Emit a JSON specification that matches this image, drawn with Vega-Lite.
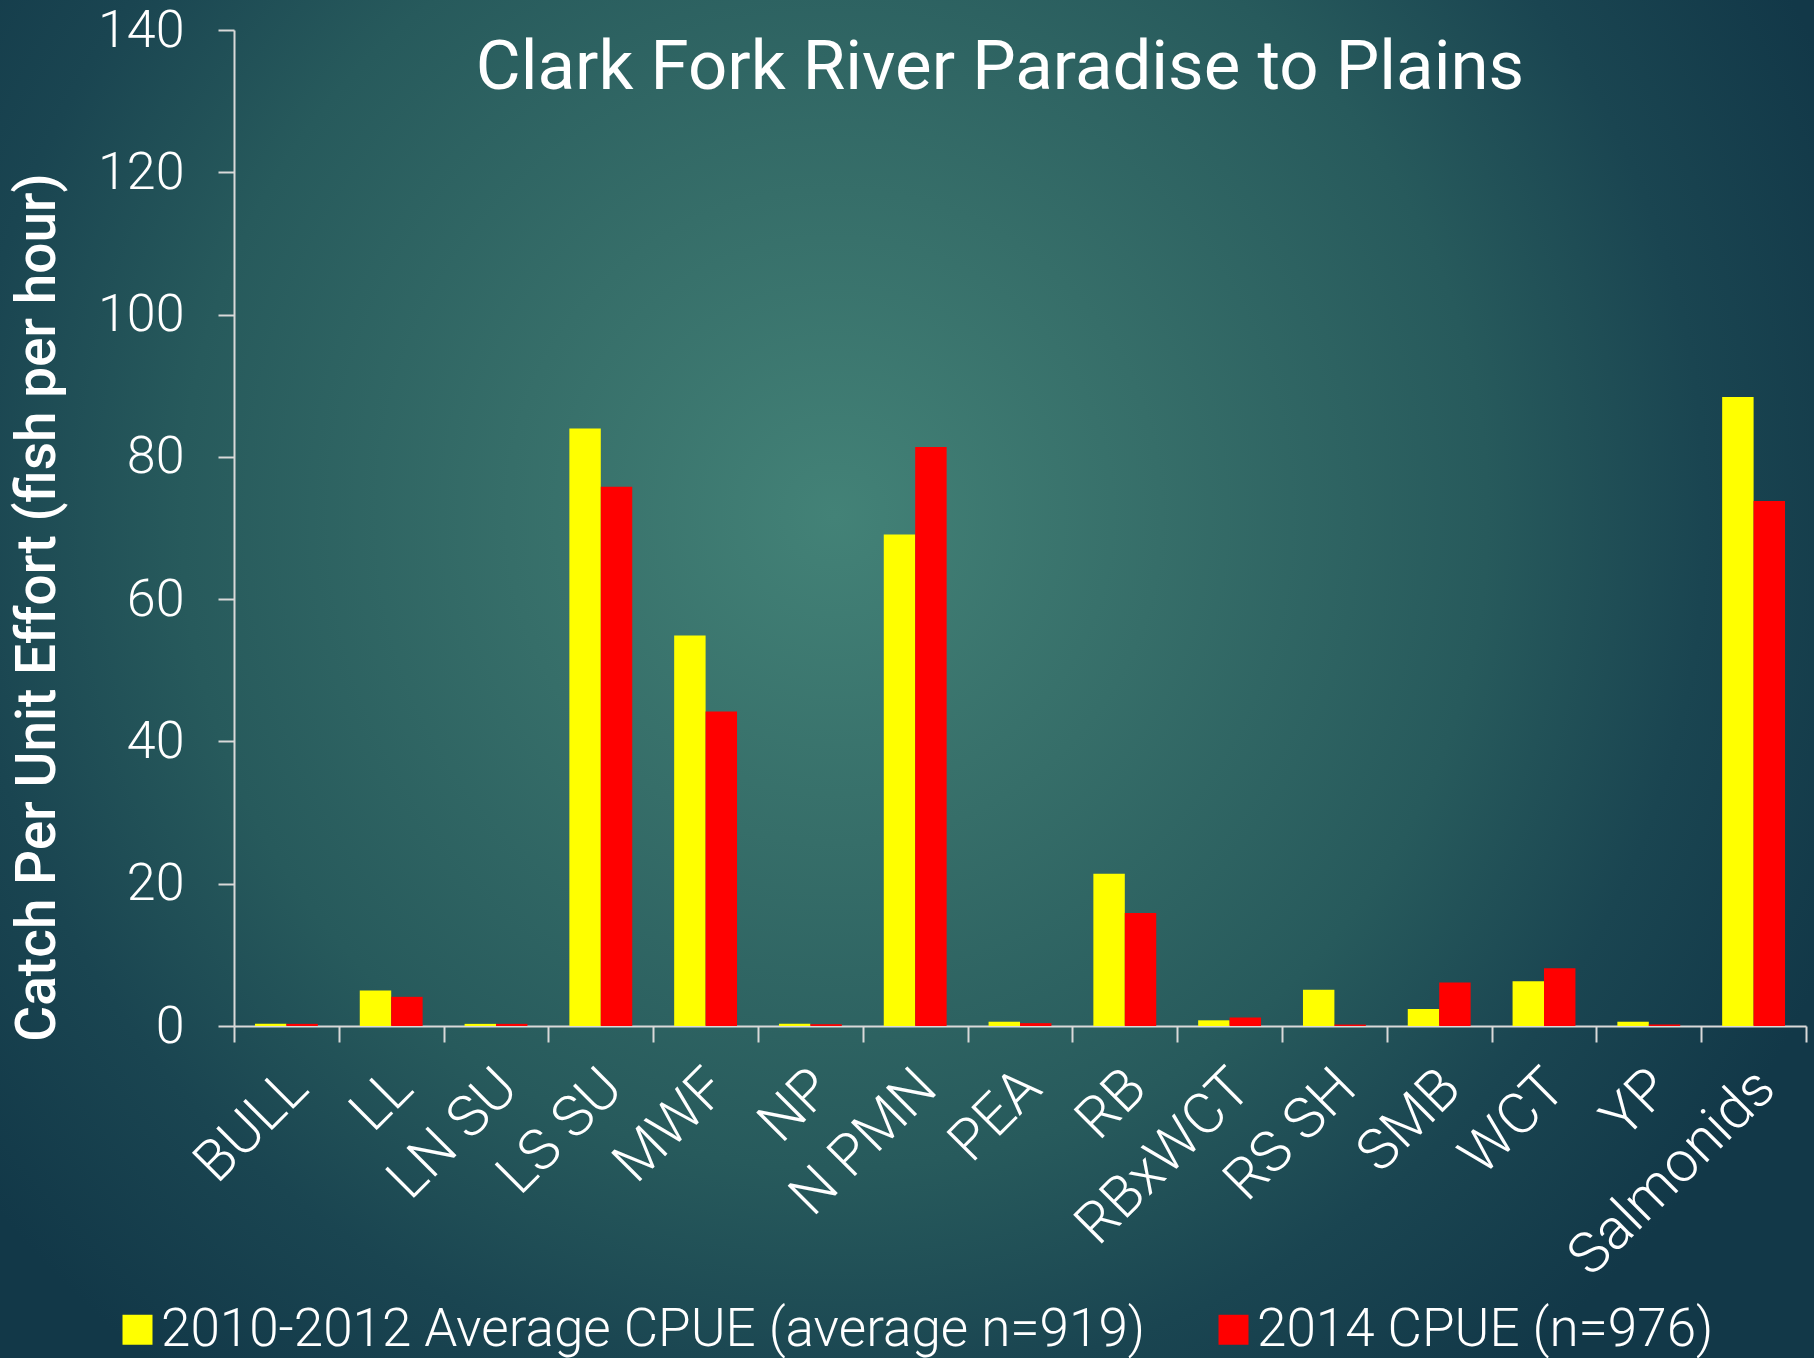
{
  "$schema": "https://vega.github.io/schema/vega-lite/v6.json",
  "width": 1814,
  "height": 1358,
  "autosize": {"type": "none"},
  "padding": 0,
  "background": "#153c4a",
  "config": {
    "view": {
      "stroke": null,
      "fill": {
        "gradient": "radial",
        "x1": 0.46, "y1": 0.41, "r1": 0,
        "x2": 0.46, "y2": 0.41, "r2": 0.6,
        "stops": [
          {"offset": 0, "color": "#438277"},
          {"offset": 0.3, "color": "#366e69"},
          {"offset": 0.6, "color": "#275a5c"},
          {"offset": 0.8, "color": "#1a4551"},
          {"offset": 1, "color": "#123848"}
        ]
      }
    },
    "font": "Roboto"
  },
  "title": {
    "text": "Clark Fork River Paradise to Plains",
    "orient": "top",
    "anchor": "middle",
    "frame": "group",
    "offset": -103,
    "dx": 93,
    "color": "#ffffff",
    "font": "Roboto",
    "fontSize": 69,
    "fontWeight": 400
  },
  "data": {
    "values": [
      {"species": "BULL", "series": "2010-2012 Average CPUE (average n=919)", "cpue": 0.3},
      {"species": "BULL", "series": "2014 CPUE (n=976)", "cpue": 0.3},
      {"species": "LL", "series": "2010-2012 Average CPUE (average n=919)", "cpue": 5.0},
      {"species": "LL", "series": "2014 CPUE (n=976)", "cpue": 4.1},
      {"species": "LN SU", "series": "2010-2012 Average CPUE (average n=919)", "cpue": 0.3},
      {"species": "LN SU", "series": "2014 CPUE (n=976)", "cpue": 0.3},
      {"species": "LS SU", "series": "2010-2012 Average CPUE (average n=919)", "cpue": 84.0},
      {"species": "LS SU", "series": "2014 CPUE (n=976)", "cpue": 75.8},
      {"species": "MWF", "series": "2010-2012 Average CPUE (average n=919)", "cpue": 54.9},
      {"species": "MWF", "series": "2014 CPUE (n=976)", "cpue": 44.2},
      {"species": "NP", "series": "2010-2012 Average CPUE (average n=919)", "cpue": 0.3},
      {"species": "NP", "series": "2014 CPUE (n=976)", "cpue": 0.25},
      {"species": "N PMN", "series": "2010-2012 Average CPUE (average n=919)", "cpue": 69.1},
      {"species": "N PMN", "series": "2014 CPUE (n=976)", "cpue": 81.4},
      {"species": "PEA", "series": "2010-2012 Average CPUE (average n=919)", "cpue": 0.6},
      {"species": "PEA", "series": "2014 CPUE (n=976)", "cpue": 0.4},
      {"species": "RB", "series": "2010-2012 Average CPUE (average n=919)", "cpue": 21.4},
      {"species": "RB", "series": "2014 CPUE (n=976)", "cpue": 15.9},
      {"species": "RBxWCT", "series": "2010-2012 Average CPUE (average n=919)", "cpue": 0.8},
      {"species": "RBxWCT", "series": "2014 CPUE (n=976)", "cpue": 1.2},
      {"species": "RS SH", "series": "2010-2012 Average CPUE (average n=919)", "cpue": 5.1},
      {"species": "RS SH", "series": "2014 CPUE (n=976)", "cpue": 0.2},
      {"species": "SMB", "series": "2010-2012 Average CPUE (average n=919)", "cpue": 2.4},
      {"species": "SMB", "series": "2014 CPUE (n=976)", "cpue": 6.1},
      {"species": "WCT", "series": "2010-2012 Average CPUE (average n=919)", "cpue": 6.3},
      {"species": "WCT", "series": "2014 CPUE (n=976)", "cpue": 8.1},
      {"species": "YP", "series": "2010-2012 Average CPUE (average n=919)", "cpue": 0.6},
      {"species": "YP", "series": "2014 CPUE (n=976)", "cpue": 0.2},
      {"species": "Salmonids", "series": "2010-2012 Average CPUE (average n=919)", "cpue": 88.4},
      {"species": "Salmonids", "series": "2014 CPUE (n=976)", "cpue": 73.8}
    ]
  },
  "mark": {"type": "bar"},
  "encoding": {
    "x": {
      "field": "species",
      "type": "nominal",
      "sort": null,
      "scale": {"range": [234, 1806], "paddingInner": 0, "paddingOuter": 0},
      "axis": {
        "title": null,
        "offset": -332,
        "domainColor": "#d9d9d9",
        "domainWidth": 2,
        "tickColor": "#d9d9d9",
        "tickWidth": 2,
        "tickSize": 16,
        "tickBand": "extent",
        "labelAngle": -45,
        "labelAlign": "right",
        "labelBaseline": "top",
        "labelPadding": 17,
        "labelOffset": -8,
        "labelColor": "#ffffff",
        "labelFont": "Roboto",
        "labelFontWeight": 300,
        "labelFontSize": 57,
        "labelLimit": 1000,
        "labelOverlap": false
      }
    },
    "xOffset": {
      "field": "series",
      "sort": ["2010-2012 Average CPUE (average n=919)", "2014 CPUE (n=976)"],
      "scale": {"paddingInner": 0, "paddingOuter": 0.667}
    },
    "y": {
      "field": "cpue",
      "type": "quantitative",
      "scale": {"domain": [0, 140], "range": [1026, 30], "nice": false, "zero": true},
      "axis": {
        "title": "Catch Per Unit Effort (fish per hour)",
        "offset": -234,
        "values": [0, 20, 40, 60, 80, 100, 120, 140],
        "grid": false,
        "domainColor": "#d9d9d9",
        "domainWidth": 2,
        "tickColor": "#d9d9d9",
        "tickWidth": 2,
        "tickSize": 16,
        "labelPadding": 34,
        "labelColor": "#ffffff",
        "labelFont": "Roboto",
        "labelFontWeight": 300,
        "labelFontSize": 52,
        "labelFlush": false,
        "labelOverlap": false,
        "titleColor": "#ffffff",
        "titleFont": "Roboto",
        "titleFontWeight": 500,
        "titleFontSize": 55,
        "titleAngle": -90,
        "titleBaseline": "middle",
        "titleAlign": "center",
        "titleX": -197,
        "titleY": 607
      }
    },
    "color": {
      "field": "series",
      "type": "nominal",
      "sort": ["2010-2012 Average CPUE (average n=919)", "2014 CPUE (n=976)"],
      "scale": {
        "domain": ["2010-2012 Average CPUE (average n=919)", "2014 CPUE (n=976)"],
        "range": ["#ffff00", "#ff0000"]
      },
      "legend": {
        "title": null,
        "orient": "none",
        "legendX": 111,
        "legendY": 1303,
        "padding": 0,
        "direction": "horizontal",
        "symbolType": "square",
        "symbolSize": 900,
        "symbolStrokeWidth": 0,
        "labelColor": "#ffffff",
        "labelFont": "Roboto",
        "labelFontWeight": 300,
        "labelFontSize": 53,
        "labelOffset": -3,
        "labelLimit": 2000,
        "columnPadding": 61
      }
    }
  }
}
